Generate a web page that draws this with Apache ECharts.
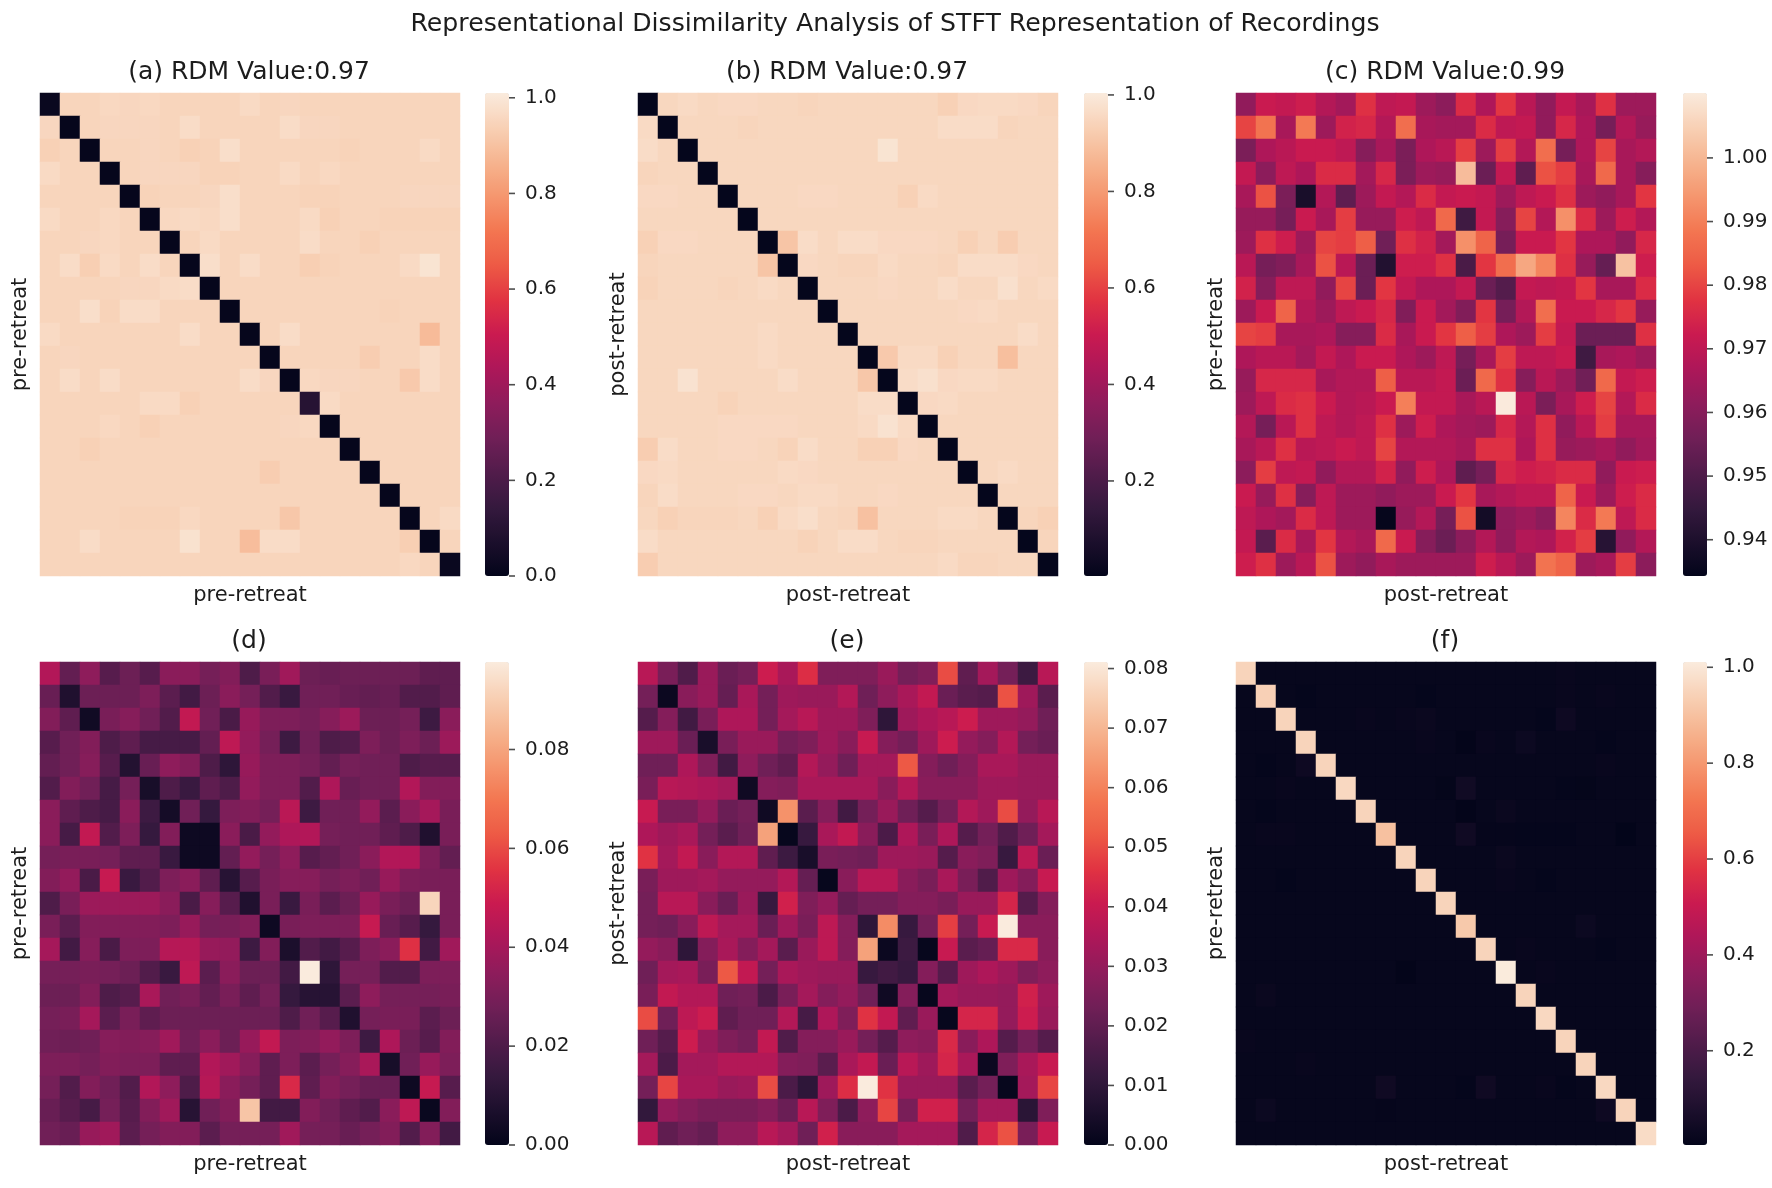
<!DOCTYPE html>
<html><head><meta charset="utf-8">
<style>html,body{margin:0;padding:0;background:#fff}#c{width:1772px;height:1188px;filter:blur(0.6px)}</style>
<script src="https://cdn.jsdelivr.net/npm/echarts@6/dist/echarts.min.js"></script>
</head><body><div id="c"></div>
<script>
const mainTitle = "Representational Dissimilarity Analysis of STFT Representation of Recordings";
const panelTitles = ["(a) RDM Value:0.97","(b) RDM Value:0.97","(c) RDM Value:0.99","(d)","(e)","(f)"];
const xNames = ["pre-retreat","post-retreat","post-retreat","pre-retreat","post-retreat","post-retreat"];
const yNames = ["pre-retreat","post-retreat","pre-retreat","pre-retreat","post-retreat","pre-retreat"];
const scaleMin = [0,0.003,0.9343,0,0,0.0034];
const scaleMax = [1.01,1.004,1.0102,0.0977,0.0811,1.011];
const ticksA = [0,0.2,0.4,0.6,0.8,1.0];
const ticksB = [0.2,0.4,0.6,0.8,1.0];
const ticksC = [0.94,0.95,0.96,0.97,0.98,0.99,1.00];
const ticksD = [0,0.02,0.04,0.06,0.08];
const ticksE = [0,0.01,0.02,0.03,0.04,0.05,0.06,0.07,0.08];
const ticksF = [0.2,0.4,0.6,0.8,1.0];
const tickDigits = [1,1,2,2,2,1];
const rocket = ["#03051a","#1c0f2c","#35193e","#521c4b","#701f57","#8e1c5b","#ad1759","#ca1a50","#e13342","#ed5a45","#f37651","#f5966e","#f6b48f","#f8d0b5","#faebdd"];

const matA = [
[.02,.95,.95,.96,.955,.96,.95,.95,.95,.95,.965,.95,.955,.95,.95,.95,.95,.95,.95,.95,.95],
[.955,.01,.95,.955,.955,.955,.95,.97,.95,.95,.95,.95,.97,.955,.955,.95,.95,.95,.95,.95,.95],
[.94,.95,.01,.95,.95,.955,.95,.94,.945,.975,.95,.95,.95,.95,.95,.945,.95,.95,.95,.965,.95],
[.965,.95,.95,.01,.95,.955,.955,.955,.945,.945,.95,.95,.965,.95,.96,.95,.95,.95,.95,.95,.95],
[.95,.95,.95,.95,.01,.945,.95,.95,.955,.975,.95,.95,.95,.945,.945,.95,.95,.95,.955,.955,.955],
[.965,.95,.95,.96,.95,.01,.96,.965,.96,.975,.95,.95,.95,.965,.94,.95,.95,.945,.945,.945,.945],
[.95,.95,.955,.96,.95,.95,.01,.95,.965,.95,.95,.95,.95,.97,.95,.95,.94,.95,.95,.95,.95],
[.95,.97,.935,.965,.95,.97,.95,.01,.975,.95,.97,.95,.95,.935,.945,.95,.95,.95,.965,.99,.95],
[.95,.95,.95,.95,.955,.955,.965,.97,.01,.95,.95,.95,.95,.95,.95,.95,.95,.95,.95,.95,.95],
[.95,.95,.975,.945,.97,.97,.95,.95,.95,.01,.95,.95,.95,.95,.95,.95,.95,.945,.95,.95,.95],
[.965,.95,.95,.95,.95,.95,.95,.97,.95,.95,.01,.95,.97,.95,.95,.95,.95,.95,.95,.885,.95],
[.95,.955,.95,.95,.95,.95,.95,.95,.95,.95,.95,.01,.95,.95,.95,.95,.93,.95,.95,.97,.95],
[.95,.97,.95,.97,.95,.95,.95,.95,.95,.95,.97,.955,.01,.96,.955,.955,.95,.95,.92,.97,.95],
[.95,.95,.95,.95,.95,.965,.965,.94,.95,.95,.95,.95,.95,.1,.965,.95,.95,.95,.95,.95,.95],
[.95,.95,.95,.96,.95,.94,.95,.95,.95,.95,.95,.95,.955,.96,.01,.95,.95,.95,.95,.95,.95],
[.95,.95,.94,.95,.95,.95,.95,.95,.95,.95,.95,.95,.95,.95,.95,.01,.95,.95,.95,.95,.95],
[.95,.95,.95,.95,.95,.95,.95,.95,.95,.95,.95,.93,.95,.95,.95,.95,.01,.95,.95,.95,.95],
[.95,.95,.95,.95,.95,.95,.95,.95,.95,.95,.95,.95,.95,.95,.95,.95,.95,.01,.95,.95,.95],
[.95,.95,.95,.95,.945,.945,.945,.96,.95,.95,.95,.95,.915,.95,.95,.95,.95,.95,.01,.95,.965],
[.95,.95,.97,.95,.95,.95,.95,.985,.95,.95,.89,.97,.97,.95,.95,.95,.95,.95,.935,.01,.95],
[.95,.95,.95,.95,.95,.95,.95,.95,.95,.95,.95,.95,.95,.95,.95,.95,.95,.95,.96,.95,.02]];

const matB = [
[.01,.95,.96,.95,.955,.955,.95,.95,.945,.95,.95,.95,.95,.95,.95,.935,.955,.96,.96,.955,.945],
[.96,.01,.95,.95,.95,.945,.95,.95,.95,.95,.95,.95,.95,.95,.95,.965,.965,.965,.945,.95,.95],
[.965,.95,.01,.95,.95,.95,.95,.95,.95,.95,.95,.95,.985,.95,.95,.95,.95,.95,.95,.95,.95],
[.945,.95,.95,.01,.95,.95,.95,.95,.95,.95,.95,.95,.95,.95,.95,.95,.95,.95,.95,.95,.95],
[.955,.955,.95,.95,.01,.95,.95,.95,.955,.955,.95,.95,.95,.935,.96,.95,.95,.95,.95,.95,.95],
[.95,.95,.95,.95,.95,.01,.95,.95,.95,.95,.95,.95,.95,.95,.95,.95,.95,.95,.95,.95,.95],
[.935,.955,.955,.95,.95,.95,.01,.905,.965,.95,.965,.965,.955,.955,.955,.95,.935,.95,.925,.95,.95],
[.945,.95,.95,.95,.95,.95,.905,.01,.955,.95,.945,.945,.96,.95,.95,.945,.965,.965,.965,.955,.95],
[.94,.95,.95,.95,.945,.95,.96,.95,.01,.95,.95,.95,.955,.95,.95,.965,.95,.95,.975,.95,.96],
[.95,.95,.95,.95,.95,.95,.95,.95,.95,.01,.95,.95,.95,.95,.95,.95,.955,.96,.95,.95,.95],
[.95,.95,.95,.95,.95,.95,.96,.95,.95,.95,.01,.95,.95,.95,.95,.95,.95,.95,.95,.965,.95],
[.95,.95,.95,.95,.95,.95,.96,.95,.95,.95,.95,.01,.915,.96,.96,.935,.95,.95,.89,.95,.95],
[.95,.95,.98,.95,.95,.95,.95,.965,.95,.95,.95,.91,.01,.965,.975,.955,.96,.96,.95,.95,.95],
[.95,.95,.95,.95,.94,.95,.95,.95,.95,.95,.95,.965,.965,.01,.955,.96,.95,.95,.95,.95,.95],
[.95,.95,.95,.95,.955,.955,.955,.955,.95,.95,.95,.96,.98,.96,.01,.95,.95,.95,.95,.95,.95],
[.925,.965,.95,.95,.955,.955,.95,.94,.965,.95,.95,.935,.935,.955,.95,.01,.95,.95,.95,.95,.95],
[.955,.96,.95,.95,.95,.95,.95,.96,.955,.95,.95,.95,.95,.95,.95,.95,.01,.95,.96,.95,.95],
[.945,.965,.95,.95,.95,.955,.955,.95,.96,.96,.95,.95,.955,.95,.95,.95,.95,.01,.95,.95,.95],
[.95,.935,.945,.945,.945,.95,.935,.96,.97,.95,.945,.895,.95,.95,.95,.96,.96,.95,.01,.945,.935],
[.965,.95,.95,.95,.95,.95,.95,.95,.94,.95,.965,.965,.95,.945,.945,.95,.95,.95,.95,.01,.945],
[.925,.95,.95,.95,.95,.95,.95,.95,.95,.95,.95,.95,.95,.95,.95,.96,.945,.945,.95,.95,.01]];

const matC = [
[.962,.972,.971,.973,.968,.965,.977,.970,.971,.964,.961,.976,.967,.978,.969,.962,.971,.966,.977,.964,.964],
[.980,.988,.966,.989,.964,.974,.975,.968,.987,.966,.965,.965,.976,.970,.971,.962,.975,.967,.957,.968,.963],
[.958,.967,.969,.972,.972,.970,.960,.966,.958,.967,.969,.979,.964,.979,.968,.987,.957,.967,.980,.966,.968],
[.971,.961,.970,.967,.976,.976,.965,.975,.958,.964,.963,1.001,.955,.971,.953,.982,.979,.966,.986,.966,.960],
[.966,.982,.958,.939,.968,.953,.964,.971,.968,.976,.971,.972,.971,.964,.970,.972,.977,.964,.962,.966,.978],
[.963,.963,.957,.972,.966,.979,.963,.963,.973,.970,.986,.947,.971,.960,.980,.968,.993,.976,.964,.973,.968],
[.964,.977,.973,.964,.980,.979,.984,.956,.977,.974,.965,.993,.985,.957,.972,.972,.978,.967,.967,.962,.975],
[.969,.957,.959,.966,.982,.969,.955,.941,.973,.973,.977,.949,.978,.987,.997,.991,.977,.963,.954,1.002,.973],
[.974,.960,.970,.970,.962,.980,.955,.978,.971,.967,.967,.971,.955,.951,.971,.970,.971,.978,.966,.966,.976],
[.964,.972,.985,.968,.964,.970,.972,.975,.959,.972,.965,.959,.978,.957,.968,.987,.972,.972,.975,.978,.963],
[.980,.979,.966,.966,.967,.960,.960,.976,.966,.972,.978,.984,.979,.967,.964,.979,.971,.955,.955,.955,.977],
[.967,.969,.969,.965,.971,.967,.972,.972,.967,.964,.970,.957,.966,.979,.970,.970,.972,.947,.966,.967,.964],
[.963,.975,.975,.975,.966,.968,.968,.984,.969,.969,.971,.955,.986,.977,.960,.969,.964,.956,.986,.971,.973],
[.964,.970,.976,.977,.972,.968,.969,.972,.990,.971,.971,.966,.969,1.010,.969,.958,.966,.973,.980,.968,.976],
[.968,.957,.969,.977,.970,.968,.970,.977,.964,.973,.967,.965,.964,.975,.968,.977,.962,.969,.979,.966,.966],
[.966,.969,.977,.969,.970,.972,.970,.980,.968,.968,.968,.966,.977,.977,.967,.977,.963,.964,.966,.962,.965],
[.961,.979,.970,.971,.962,.968,.968,.974,.962,.973,.967,.953,.957,.975,.973,.974,.976,.976,.962,.972,.973],
[.972,.963,.977,.960,.970,.964,.964,.962,.964,.964,.972,.978,.966,.968,.970,.970,.985,.972,.964,.973,.976],
[.970,.967,.965,.976,.970,.964,.964,.935,.963,.968,.957,.982,.938,.962,.964,.961,.991,.976,.989,.970,.976],
[.971,.952,.976,.966,.978,.968,.966,.986,.972,.960,.955,.961,.968,.962,.968,.967,.974,.979,.942,.962,.968],
[.973,.977,.964,.969,.982,.964,.962,.966,.964,.964,.964,.964,.973,.969,.964,.988,.985,.964,.966,.979,.961]];

const matD = [
[.043,.025,.035,.022,.027,.022,.034,.034,.029,.032,.020,.030,.039,.027,.026,.027,.027,.027,.027,.024,.024],
[.026,.008,.027,.027,.027,.031,.023,.017,.027,.034,.029,.021,.015,.028,.028,.026,.025,.026,.021,.021,.024],
[.032,.024,.004,.030,.033,.028,.021,.047,.028,.019,.037,.031,.031,.029,.033,.038,.027,.027,.029,.016,.034],
[.022,.028,.032,.020,.024,.018,.018,.018,.025,.046,.036,.029,.016,.028,.020,.021,.031,.027,.031,.027,.038],
[.025,.028,.033,.022,.009,.026,.035,.032,.020,.012,.037,.031,.031,.029,.025,.029,.028,.028,.020,.022,.022],
[.021,.032,.028,.018,.029,.006,.020,.015,.024,.020,.036,.031,.031,.021,.042,.026,.028,.028,.043,.032,.032],
[.034,.024,.020,.018,.034,.016,.005,.028,.014,.031,.032,.029,.045,.016,.028,.028,.036,.023,.034,.040,.030],
[.034,.018,.047,.021,.031,.014,.032,.003,.003,.034,.019,.036,.042,.043,.029,.028,.028,.024,.020,.008,.030],
[.029,.030,.030,.029,.024,.024,.015,.003,.003,.025,.036,.029,.035,.022,.025,.028,.034,.043,.043,.031,.025],
[.032,.036,.019,.048,.015,.021,.031,.034,.024,.010,.022,.030,.033,.033,.029,.031,.028,.037,.031,.030,.030],
[.020,.030,.038,.038,.038,.038,.034,.019,.033,.022,.008,.030,.015,.030,.023,.027,.037,.030,.027,.092,.030],
[.030,.023,.032,.032,.032,.032,.031,.037,.029,.030,.032,.003,.030,.031,.031,.031,.048,.026,.022,.014,.030],
[.040,.017,.033,.019,.031,.031,.044,.044,.037,.036,.016,.032,.007,.021,.017,.022,.031,.034,.055,.017,.039],
[.029,.029,.030,.029,.027,.021,.015,.046,.023,.034,.027,.027,.017,.0977,.012,.029,.029,.021,.021,.031,.031],
[.027,.027,.032,.020,.022,.041,.028,.030,.025,.030,.024,.029,.014,.010,.010,.023,.035,.029,.029,.029,.030],
[.029,.030,.040,.023,.030,.024,.027,.027,.027,.027,.027,.027,.020,.028,.022,.008,.029,.030,.030,.023,.027],
[.028,.027,.028,.033,.032,.033,.039,.028,.034,.027,.037,.047,.031,.032,.036,.031,.016,.042,.027,.022,.032],
[.031,.031,.029,.032,.031,.031,.024,.024,.043,.039,.033,.024,.031,.023,.029,.033,.041,.006,.028,.037,.031],
[.029,.021,.032,.028,.021,.043,.035,.020,.044,.034,.029,.024,.053,.024,.032,.029,.026,.026,.003,.048,.022],
[.026,.022,.018,.029,.022,.032,.039,.010,.028,.032,.088,.017,.017,.032,.028,.024,.021,.034,.046,.002,.032],
[.028,.026,.037,.039,.023,.029,.032,.032,.023,.029,.029,.029,.039,.029,.029,.026,.029,.032,.021,.032,.017]];

const matE = [
[.037,.025,.017,.031,.022,.024,.041,.034,.045,.026,.026,.026,.031,.024,.026,.050,.020,.033,.024,.013,.037],
[.024,.002,.028,.031,.021,.034,.024,.032,.031,.031,.036,.023,.029,.034,.039,.022,.019,.018,.051,.032,.019],
[.018,.027,.014,.025,.035,.035,.024,.033,.037,.032,.032,.026,.010,.032,.035,.037,.041,.032,.032,.030,.023],
[.032,.032,.022,.005,.025,.031,.031,.024,.026,.032,.028,.040,.027,.024,.032,.041,.030,.027,.036,.024,.022],
[.023,.023,.035,.026,.014,.029,.023,.020,.036,.030,.023,.033,.033,.052,.027,.023,.027,.034,.034,.031,.031],
[.025,.037,.036,.035,.033,.003,.027,.026,.034,.034,.034,.034,.028,.036,.028,.028,.028,.032,.032,.031,.031],
[.040,.025,.025,.030,.022,.024,.003,.063,.019,.027,.014,.024,.031,.023,.018,.024,.036,.032,.050,.030,.037],
[.035,.032,.034,.024,.019,.023,.066,.001,.012,.034,.039,.028,.016,.035,.025,.035,.018,.024,.017,.023,.033],
[.046,.033,.039,.028,.036,.036,.020,.013,.005,.025,.024,.023,.032,.032,.031,.018,.028,.026,.012,.038,.022],
[.025,.032,.032,.033,.030,.030,.030,.036,.021,.001,.028,.037,.037,.028,.025,.034,.025,.017,.032,.027,.040],
[.024,.037,.037,.028,.022,.031,.012,.042,.026,.030,.021,.024,.024,.027,.027,.025,.031,.031,.043,.018,.027],
[.024,.023,.028,.038,.033,.033,.022,.032,.025,.038,.027,.010,.062,.012,.024,.048,.024,.040,.0811,.028,.028],
[.030,.028,.010,.027,.034,.027,.033,.019,.031,.038,.027,.066,.002,.013,.001,.040,.019,.021,.044,.044,.028],
[.023,.033,.034,.025,.052,.039,.024,.034,.032,.031,.031,.012,.014,.012,.027,.018,.032,.035,.032,.026,.029],
[.025,.039,.036,.036,.023,.024,.016,.025,.033,.027,.030,.023,.003,.027,.001,.033,.031,.031,.030,.042,.032],
[.050,.023,.038,.041,.020,.023,.023,.036,.015,.035,.026,.046,.039,.020,.031,.001,.043,.043,.030,.041,.031],
[.023,.018,.041,.031,.026,.024,.039,.017,.027,.027,.031,.024,.018,.029,.028,.044,.028,.035,.018,.024,.018],
[.033,.016,.033,.033,.036,.036,.036,.027,.026,.019,.034,.039,.022,.037,.032,.043,.034,.002,.026,.034,.040],
[.024,.049,.034,.034,.031,.032,.050,.016,.010,.032,.045,.0811,.046,.031,.031,.031,.019,.024,.001,.033,.049],
[.011,.030,.027,.025,.025,.025,.027,.022,.037,.026,.016,.029,.049,.025,.042,.042,.024,.033,.033,.009,.026],
[.037,.020,.023,.021,.029,.029,.037,.033,.023,.042,.028,.028,.028,.033,.033,.033,.017,.043,.051,.025,.040]];

const matF = [
[.95,.015,.015,.015,.015,.015,.015,.015,.015,.015,.015,.015,.015,.015,.015,.015,.02,.015,.015,.015,.015],
[.015,.94,.015,.01,.015,.015,.015,.015,.015,.01,.015,.015,.015,.015,.015,.015,.02,.015,.02,.015,.015],
[.015,.015,.95,.015,.015,.015,.02,.015,.02,.025,.015,.015,.015,.015,.015,.01,.035,.015,.015,.015,.015],
[.015,.015,.015,.95,.015,.015,.015,.015,.015,.02,.015,.005,.02,.015,.03,.015,.015,.015,.01,.015,.015],
[.015,.01,.015,.035,.95,.015,.015,.015,.015,.015,.015,.015,.015,.015,.015,.015,.015,.015,.02,.015,.015],
[.015,.015,.02,.015,.015,.96,.015,.015,.015,.015,.008,.045,.015,.015,.015,.015,.01,.008,.015,.015,.015],
[.015,.01,.015,.015,.015,.015,.95,.015,.015,.015,.015,.005,.015,.025,.015,.015,.015,.015,.015,.015,.015],
[.015,.02,.02,.015,.015,.015,.015,.90,.015,.015,.015,.04,.012,.012,.01,.01,.01,.015,.015,.004,.015],
[.015,.015,.015,.015,.015,.015,.015,.015,.95,.015,.015,.015,.015,.025,.015,.015,.015,.015,.015,.015,.015],
[.015,.015,.01,.015,.015,.015,.015,.015,.015,.95,.015,.015,.015,.02,.015,.01,.015,.015,.015,.015,.015],
[.015,.015,.015,.015,.015,.015,.015,.015,.015,.015,.95,.015,.015,.015,.015,.015,.015,.015,.015,.015,.015],
[.015,.015,.015,.015,.015,.015,.015,.015,.015,.015,.015,.92,.015,.015,.015,.015,.015,.03,.015,.015,.015],
[.015,.015,.015,.015,.015,.015,.015,.015,.015,.015,.015,.015,.95,.015,.02,.015,.015,.015,.01,.015,.015],
[.015,.015,.015,.015,.015,.015,.015,.015,.005,.015,.015,.015,.015,1.01,.015,.02,.015,.015,.015,.015,.015],
[.015,.025,.015,.015,.015,.015,.015,.015,.015,.015,.015,.015,.015,.015,.95,.015,.015,.015,.015,.015,.015],
[.015,.015,.015,.015,.015,.015,.015,.015,.015,.015,.015,.015,.015,.015,.015,.96,.015,.015,.015,.015,.015],
[.02,.015,.015,.015,.015,.015,.015,.015,.015,.015,.015,.015,.015,.015,.015,.015,.95,.015,.015,.015,.015],
[.015,.015,.015,.02,.015,.015,.015,.015,.015,.015,.015,.015,.015,.015,.015,.015,.015,.95,.015,.015,.015],
[.015,.015,.015,.015,.015,.015,.015,.04,.015,.015,.015,.01,.04,.015,.015,.02,.01,.015,.96,.015,.015],
[.015,.03,.015,.015,.015,.015,.015,.012,.015,.015,.015,.015,.015,.015,.015,.015,.015,.015,.035,.95,.015],
[.015,.015,.015,.015,.015,.015,.015,.015,.015,.015,.015,.015,.015,.015,.015,.015,.015,.015,.015,.015,.97]];

const matrices = [matA,matB,matC,matD,matE,matF];
const tickSets = [ticksA,ticksB,ticksC,ticksD,ticksE,ticksF];

const layoutX = [40,638,1236];
const layoutCb = [485,1084,1683];
const layoutY = [93,662];
const plotW = 420, plotH = 483, cbW = 24;
const textColor = "#1c1c1c", font = "DejaVu Sans";
const ids = Array.from({length:21},(_,i)=>String(i));

const grid=[],xAxis=[],yAxis=[],series=[],visualMap=[];
const title=[{text:mainTitle,left:895,top:11.5,textAlign:"center",padding:0,textStyle:{fontFamily:font,fontSize:25.2,fontWeight:"normal",color:textColor}}];

matrices.forEach((m,p)=>{
  const col=p%3,row=Math.floor(p/3),left=layoutX[col],top=layoutY[row],cb=layoutCb[col];
  title.push({text:panelTitles[p],left:left+plotW/2-1,top:top-33.5,textAlign:"center",padding:0,textStyle:{fontFamily:font,fontSize:25,fontWeight:"normal",color:textColor}});
  const gi=grid.length;
  grid.push({left,top,width:plotW,height:plotH,containLabel:false});
  xAxis.push({gridIndex:gi,type:"category",data:ids,name:xNames[p],nameLocation:"middle",nameGap:9,nameTextStyle:{fontFamily:font,fontSize:21,color:textColor,verticalAlign:"top"},axisLine:{show:false},axisTick:{show:false},axisLabel:{show:false},splitLine:{show:false},splitArea:{show:false}});
  yAxis.push({gridIndex:gi,type:"category",data:ids,inverse:true,name:yNames[p],nameLocation:"middle",nameGap:8.5,nameTextStyle:{fontFamily:font,fontSize:21,color:textColor},axisLine:{show:false},axisTick:{show:false},axisLabel:{show:false},splitLine:{show:false},splitArea:{show:false}});
  const data=[];
  m.forEach((r,ri)=>r.forEach((v,ci)=>data.push([ci,ri,v])));
  const si=series.length;
  series.push({type:"heatmap",xAxisIndex:gi,yAxisIndex:gi,data,progressive:0,emphasis:{disabled:true},silent:true,itemStyle:{borderWidth:0}});
  visualMap.push({type:"continuous",seriesIndex:si,min:scaleMin[p],max:scaleMax[p],left:cb,top,itemWidth:cbW,itemHeight:plotH,padding:0,calculable:false,realtime:false,hoverLink:false,text:null,showLabel:false,inRange:{color:rocket},textStyle:{color:"rgba(0,0,0,0)"},silent:true});
  const gc=grid.length;
  grid.push({left:cb,top,width:cbW,height:plotH,containLabel:false});
  xAxis.push({gridIndex:gc,type:"value",show:false,min:0,max:1});
  const digits=tickDigits[p];
  yAxis.push({gridIndex:gc,type:"value",position:"right",min:scaleMin[p],max:scaleMax[p],scale:true,
    axisLine:{show:false},splitLine:{show:false},axisTick:{show:false},
    axisLabel:{show:true,margin:16,fontFamily:font,fontSize:20,color:textColor,customValues:tickSets[p],formatter:v=>Number(v).toFixed(digits)}});
  series.push({type:"scatter",xAxisIndex:gc,yAxisIndex:gc,data:tickSets[p].map(v=>[1,v]),symbol:"rect",symbolSize:[6,1.6],symbolOffset:[3,0],clip:false,silent:true,itemStyle:{color:"#222"},z:5,emphasis:{disabled:true}});
});

const chart=echarts.init(document.getElementById("c"),null,{renderer:"canvas",width:1772,height:1188});
chart.setOption({backgroundColor:"#fff",animation:false,title,grid,xAxis,yAxis,visualMap,series,tooltip:{show:false}});
</script></body></html>
